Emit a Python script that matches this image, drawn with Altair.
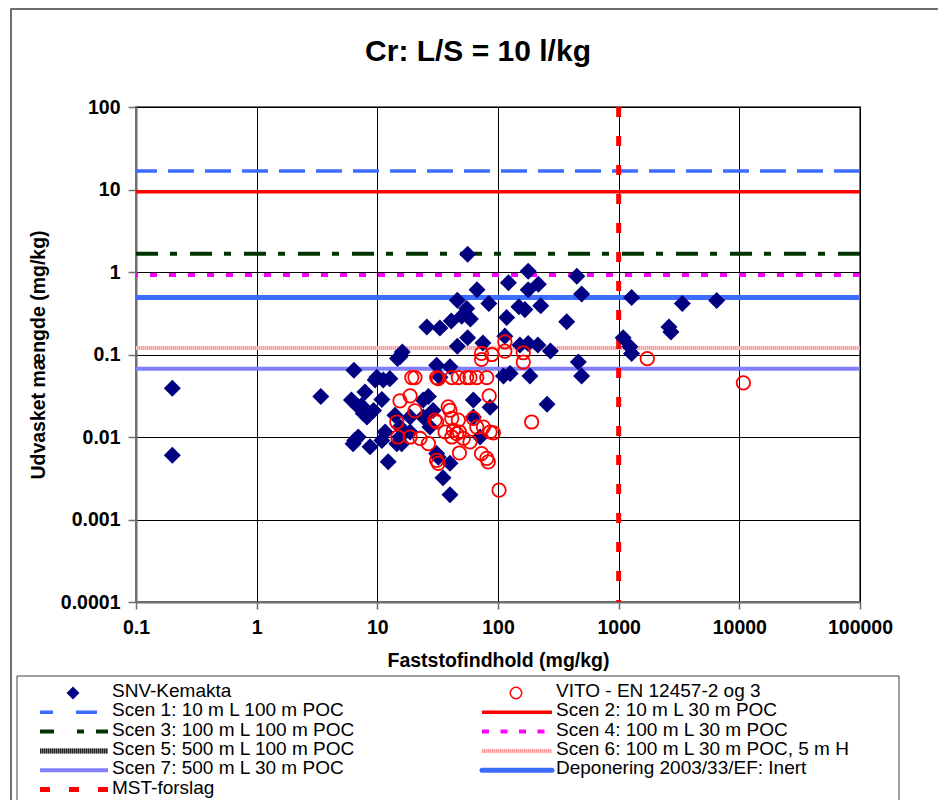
import altair as alt
import pandas as pd

# SNV-Kemakta results: solid content (mg/kg) vs leached amount (mg/kg)
snv_x = [0.2, 0.2, 3.4,
         56, 178, 122, 450, 493, 216, 178, 67,
         46, 84, 149, 167, 226, 55, 59, 50, 41, 33, 25.7, 118, 371,
         56, 46, 75, 16.1, 14.7, 114, 152, 178, 214, 272,
         463, 493, 184, 111, 126, 255,
         31, 40, 62.5, 40, 35, 40, 12.3,
         1280, 3370, 6490, 2610, 2710, 1090, 1240, 1280,
         6.4, 7.9, 9.6, 11.2, 6.1, 7.4, 8.2, 9.3, 10.9,
         6.5, 8.7, 10.9, 11.6, 15.4, 14, 15.4, 15.9,
         24, 24, 27.3, 32, 62.5, 71, 86,
         33, 26.5, 29, 18.7, 18.7, 31, 9.9, 12.7, 15.4,
         6.95, 7.65, 6.3, 6.95, 14.5]
snv_y = [0.039, 0.006, 0.031,
         1.64, 1.02, 0.74, 0.89, 0.54, 0.71, 0.61, 0.61,
         0.455, 0.415, 0.38, 0.35, 0.39, 0.36, 0.27, 0.29, 0.255, 0.21, 0.216, 0.28, 0.25,
         0.16, 0.126, 0.138, 0.107, 0.0895, 0.167, 0.13, 0.136, 0.13, 0.11,
         0.081, 0.055, 0.055, 0.055, 0.059, 0.025,
         0.074, 0.071, 0.0175, 0.0048, 0.0032, 0.002, 0.005,
         0.49, 0.415, 0.45, 0.216, 0.188, 0.16, 0.124, 0.103,
         0.0645, 0.035, 0.049, 0.049, 0.028, 0.024, 0.0175, 0.021, 0.0285,
         0.0091, 0.0076, 0.0091, 0.0115, 0.094, 0.0184, 0.0132, 0.0083,
         0.028, 0.0175, 0.0132, 0.0057, 0.028, 0.01, 0.023,
         0.053, 0.031, 0.021, 0.0175, 0.0115, 0.0063, 0.053, 0.051, 0.01,
         0.0232, 0.0193, 0.0083, 0.0100, 0.0083]

# VITO results (EN 12457-2 og 3)
vito_x = [114, 114, 73, 89, 73, 162, 162,
          19.3, 20.5, 31, 32, 41.4, 46.9, 55, 58.6, 66.7, 80.7,
          18.7, 84.5, 15.4, 20.5, 14.5, 38.7, 40,
          30, 31, 41.4, 46.9, 62.5, 66.7, 75.7, 86, 91.6,
          18.7, 22.6, 26.5, 41.4, 47.9, 58.6, 47.9,
          31, 32, 73, 80.7, 83, 190, 102,
          1726, 10800, 36.4, 42.7, 45.5, 51.6, 14.8]
vito_y = [0.142, 0.11, 0.103, 0.1, 0.087, 0.105, 0.081,
          0.0526, 0.0526, 0.0526, 0.051, 0.0526, 0.0526, 0.0526, 0.0526, 0.0526, 0.0526,
          0.0315, 0.0315, 0.0274, 0.0207, 0.0152, 0.0232, 0.0211,
          0.016, 0.0152, 0.0168, 0.016, 0.0168, 0.0132, 0.0132, 0.0115, 0.0112,
          0.01, 0.0096, 0.0083, 0.01, 0.0115, 0.0087, 0.0064,
          0.0052, 0.0048, 0.0063, 0.0055, 0.005, 0.0152, 0.00227,
          0.089, 0.0453, 0.0115, 0.012, 0.011, 0.0096, 0.01]

# Limit values (mg/kg) for the scenarios
scen_names = ["Scen 1: 10 m L 100 m POC",
              "Scen 2: 10 m L 30 m POC",
              "Scen 3: 100 m L 100 m POC",
              "Scen 4: 100 m L 30 m POC",
              "Scen 5: 500 m L 100 m POC",
              "Scen 6: 100 m L 30 m POC, 5 m H",
              "Scen 7: 500 m L 30 m POC",
              "Deponering 2003/33/EF: Inert"]
scen_values = [16.8, 9.4, 1.67, 0.92, 150, 0.12, 0.067, 0.49]

mst_name = "MST-forslag"
mst_values = [1000]

snv_name = "SNV-Kemakta"
vito_name = "VITO - EN 12457-2 og 3"
chart_title = "Cr: L/S = 10 l/kg"

x_ticks = [0.1, 1, 10, 100, 1000, 10000, 100000]
y_ticks = [0.0001, 0.001, 0.01, 0.1, 1, 10, 100]

FONT = "Liberation Sans"
GREY = "#6e6e6e"

# line styles: colour, width, dash in plot, dash in legend, optional texture
line_style = {
    scen_names[0]: dict(color="#3d6dff", width=3.5, dash=[26, 11], ldash=[21, 23], loff=8),
    scen_names[1]: dict(color="#ff0000", width=3.5),
    scen_names[2]: dict(color="#003300", width=4, dash=[22, 13, 7, 12], ldash=[14, 23, 7, 12]),
    scen_names[3]: dict(color="#ff00ff", width=4, dash=[7, 12], ldash=[7, 11.5]),
    scen_names[4]: dict(color="#777777", width=5, texture="#222222"),
    scen_names[5]: dict(color="#ffcccc", width=4, texture="#ff9a9a"),
    scen_names[6]: dict(color="#8080ff", width=4),
    scen_names[7]: dict(color="#3d6dff", width=5, cap="round"),
    mst_name: dict(color="#ff0000", width=5, dash=[10, 19], ldash=[10, 19]),
}

xscale = alt.Scale(type="log", domain=[0.1, 100000])
yscale = alt.Scale(type="log", domain=[0.0001, 100])

common_axis = dict(
    grid=True, gridColor="black", gridWidth=1, gridOpacity=1,
    domainColor=GREY, domainWidth=2, tickColor=GREY, tickWidth=1.5,
    labelFont=FONT, labelFontWeight="bold", labelFontSize=19.5, labelColor="black",
    labelFlush=False, labelOverlap=False, format="~g",
    titleFont=FONT, titleFontWeight="bold", titleFontSize=19.5, titleColor="black",
)
xaxis = alt.Axis(values=x_ticks, tickSize=7, labelPadding=9.5,
                 title="Faststofindhold (mg/kg)", titlePadding=14, **common_axis)
yaxis = alt.Axis(values=y_ticks, tickSize=8, labelPadding=8,
                 title="Udvasket mængde (mg/kg)", titlePadding=12, **common_axis)

df_snv = pd.DataFrame({"x": snv_x, "y": snv_y})
df_vito = pd.DataFrame({"x": vito_x, "y": vito_y})
df_scen = pd.DataFrame({"name": scen_names, "value": scen_values})
df_mst = pd.DataFrame({"name": [mst_name], "value": mst_values})
one_row = pd.DataFrame({"k": [0]})

layers = []

# outer chart frame and legend box
layers.append(alt.Chart(one_row).mark_rect(fillOpacity=0, stroke="#404040", strokeWidth=1.5).encode(
    x=alt.value(-125), y=alt.value(-98), x2=alt.value(1000), y2=alt.value(900)))
layers.append(alt.Chart(one_row).mark_rect(fillOpacity=0, stroke="#404040", strokeWidth=1).encode(
    x=alt.value(-119), y=alt.value(569), x2=alt.value(763), y2=alt.value(900)))

# chart title, centred on the chart area
layers.append(alt.Chart(one_row).mark_text(text=chart_title, align="center", baseline="alphabetic",
                                           font=FONT, fontSize=30, fontWeight="bold",
                                           color="black").encode(
    x=alt.value(342), y=alt.value(-46)))

# horizontal limit lines
for n in scen_names:
    s = line_style[n]
    props = dict(color=s["color"], strokeWidth=s["width"], clip=True, strokeCap="butt")
    if "dash" in s:
        props["strokeDash"] = s["dash"]
    base = alt.Chart(df_scen).transform_filter(alt.datum.name == n)
    layers.append(base.mark_rule(**props).encode(
        y=alt.Y("value:Q", scale=yscale, axis=yaxis)))
    if "texture" in s:
        layers.append(base.mark_rule(color=s["texture"], strokeWidth=s["width"], clip=True,
                                     strokeDash=[1, 1]).encode(
            y=alt.Y("value:Q", scale=yscale, axis=yaxis)))

# vertical MST proposal line
ms = line_style[mst_name]
layers.append(alt.Chart(df_mst).mark_rule(color=ms["color"], strokeWidth=ms["width"],
                                          strokeDash=ms["dash"], clip=True).encode(
    x=alt.X("value:Q", scale=xscale, axis=xaxis)))

# measurements
layers.append(alt.Chart(df_snv).mark_point(shape="diamond", filled=True, size=290,
                                           color="#000080", opacity=1).encode(
    x=alt.X("x:Q", scale=xscale, axis=xaxis),
    y=alt.Y("y:Q", scale=yscale, axis=yaxis)))
layers.append(alt.Chart(df_vito).mark_point(shape="circle", filled=False, size=180,
                                            color="#ff0000", strokeWidth=1.8, opacity=1).encode(
    x=alt.X("x:Q", scale=xscale, axis=xaxis),
    y=alt.Y("y:Q", scale=yscale, axis=yaxis)))

# legend, two columns filled row by row
legend_order = [snv_name, vito_name] + scen_names + [mst_name]
col_geom = [dict(x0=-96, x1=-28, xc=-63, tx=-24), dict(x0=346, x1=416, xc=380, tx=420)]
for i, n in enumerate(legend_order):
    g = col_geom[i % 2]
    base_y = 590 + 19.3 * (i // 2)
    sym_y = base_y - 4
    if n == snv_name:
        layers.append(alt.Chart(one_row).mark_point(shape="diamond", filled=True, size=170,
                                                    color="#000080", opacity=1).encode(
            x=alt.value(g["xc"]), y=alt.value(sym_y)))
    elif n == vito_name:
        layers.append(alt.Chart(one_row).mark_point(shape="circle", filled=False, size=130,
                                                    color="#ff0000", strokeWidth=1.5, opacity=1).encode(
            x=alt.value(g["xc"]), y=alt.value(sym_y)))
    else:
        s = line_style[n]
        props = dict(color=s["color"], strokeWidth=s["width"], strokeCap=s.get("cap", "butt"))
        if "ldash" in s:
            props["strokeDash"] = s["ldash"]
            if "loff" in s:
                props["strokeDashOffset"] = s["loff"]
        layers.append(alt.Chart(one_row).mark_rule(**props).encode(
            x=alt.value(g["x0"]), x2=alt.value(g["x1"]), y=alt.value(sym_y)))
        if "texture" in s:
            layers.append(alt.Chart(one_row).mark_rule(color=s["texture"], strokeWidth=s["width"],
                                                       strokeDash=[1, 1]).encode(
                x=alt.value(g["x0"]), x2=alt.value(g["x1"]), y=alt.value(sym_y)))
    layers.append(alt.Chart(one_row).mark_text(text=n, align="left", baseline="alphabetic",
                                               font=FONT, fontSize=19, color="black").encode(
        x=alt.value(g["tx"]), y=alt.value(base_y)))

chart = alt.layer(*layers).properties(
    width=724, height=495,
    autosize=alt.AutoSizeParams(type="none"),
    padding={"left": 136, "top": 107, "right": 78, "bottom": 198},
    background="white",
).configure_view(stroke=GREY, strokeWidth=2)

chart.save("out.html", embed_options={"renderer": "svg", "actions": False})
